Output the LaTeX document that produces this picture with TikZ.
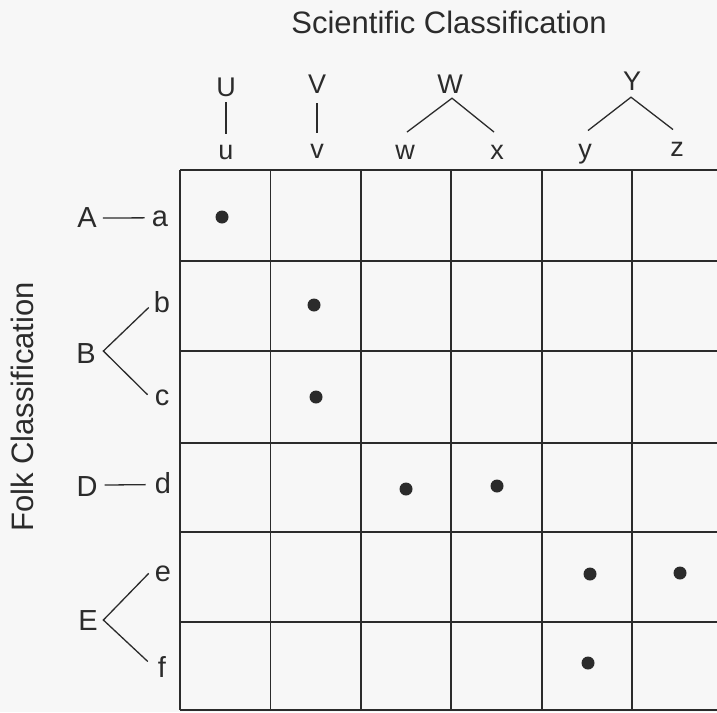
\documentclass[tikz,border=0pt]{standalone}
\usepackage{fontspec}
\setmainfont{Liberation Sans}
\usetikzlibrary{calc}
\definecolor{ink}{HTML}{2B2B2B}
\definecolor{paper}{HTML}{F7F7F7}
\begin{document}
\begin{tikzpicture}[x=1pt,y=1pt,
  title/.style={inner sep=0pt, text=ink, font=\fontsize{31}{36}\selectfont},
  toplbl/.style={inner sep=0pt, anchor=base, text=ink, font=\fontsize{27}{32}\selectfont},
  leftlbl/.style={inner sep=0pt, anchor=base, text=ink, font=\fontsize{29}{34}\selectfont},
  conn/.style={draw=ink, line width=1.3pt},
  gridline/.style={draw=ink, line width=1.8pt},
  dot/.style={circle, fill=ink, inner sep=0pt, minimum size=13pt}]
\fill[paper] (0,0) rectangle (717,-712);
\useasboundingbox (0,0) rectangle (717,-712);
\clip (0,0) rectangle (717,-712);

% titles
\node[title, anchor=base] (sci) at (449,-33) {Scientific Classification};
\node[title, anchor=base west, rotate=90] (folk) at (33,-532) {Folk Classification};

% grid
\foreach \x in {180,270.4,360.8,451.2,541.6,632} {
  \draw[gridline] (\x,-170) -- (\x,-710);
}
\foreach \y in {170,261,351,443,532,622,710} {
  \draw[gridline] (180,-\y) -- (730,-\y);
}

% top labels
\node[toplbl] (U) at (226,-96) {U};
\node[toplbl] (u) at (226,-159) {u};
\node[toplbl] (V) at (317,-93) {V};
\node[toplbl] (v) at (317,-158) {v};
\node[toplbl] (W) at (450,-93) {W};
\node[toplbl] (w) at (405,-159) {w};
\node[toplbl] (x) at (497,-159) {x};
\node[toplbl] (Y) at (632,-90) {Y};
\node[toplbl] (y) at (585,-158) {y};
\node[toplbl] (z) at (677,-156) {z};

\draw[conn] ($(U.south)+(0,-6)$) -- ($(u.north)+(0,11)$);
\draw[conn] ($(V.south)+(0,-10)$) -- ($(v.north)+(0,11)$);
\draw[conn] ($(w.north)+(2,12.5)$) -- ($(W.south)+(2,-5)$) -- ($(x.north)+(-3,12.5)$);
\draw[conn] ($(y.north)+(3,13)$) -- ($(Y.south)+(-1,-7)$) -- ($(z.north)+(-4,12)$);

% left labels
\node[leftlbl] (A) at (87,-227) {A};
\node[leftlbl] (a) at (160,-226) {a};
\node[leftlbl] (B) at (86,-363) {B};
\node[leftlbl] (b) at (162,-312) {b};
\node[leftlbl] (c) at (162,-405) {c};
\node[leftlbl] (D) at (87,-496) {D};
\node[leftlbl] (d) at (163,-493) {d};
\node[leftlbl] (E) at (88,-630) {E};
\node[leftlbl] (e) at (163,-581) {e};
\node[leftlbl] (f) at (162,-677) {f};

\draw[conn] ($(A.east)+(6,-1)$) -- ($(a.west)+(-7,0.5)$);
\draw[conn] ($(b.south west)+(-5,5)$) -- ($(B.east)+(7.5,2)$) -- ($(c.north west)+(-7,-5.5)$);
\draw[conn] ($(D.east)+(7,1)$) -- ($(d.west)+(-9,-2)$);
\draw[conn] ($(e.west)+(-6,0)$) -- ($(E.east)+(5.5,0)$) -- ($(f.west)+(-10,5)$);

% dots
\node[dot] (d1) at (222,-217) {};
\node[dot] (d2) at (314,-305) {};
\node[dot] (d3) at (316,-397) {};
\node[dot] (d4) at (406,-489) {};
\node[dot] (d5) at (497,-486) {};
\node[dot] (d6) at (590,-574) {};
\node[dot] (d7) at (680,-573) {};
\node[dot] (d8) at (588,-663) {};
\end{tikzpicture}
\end{document}
